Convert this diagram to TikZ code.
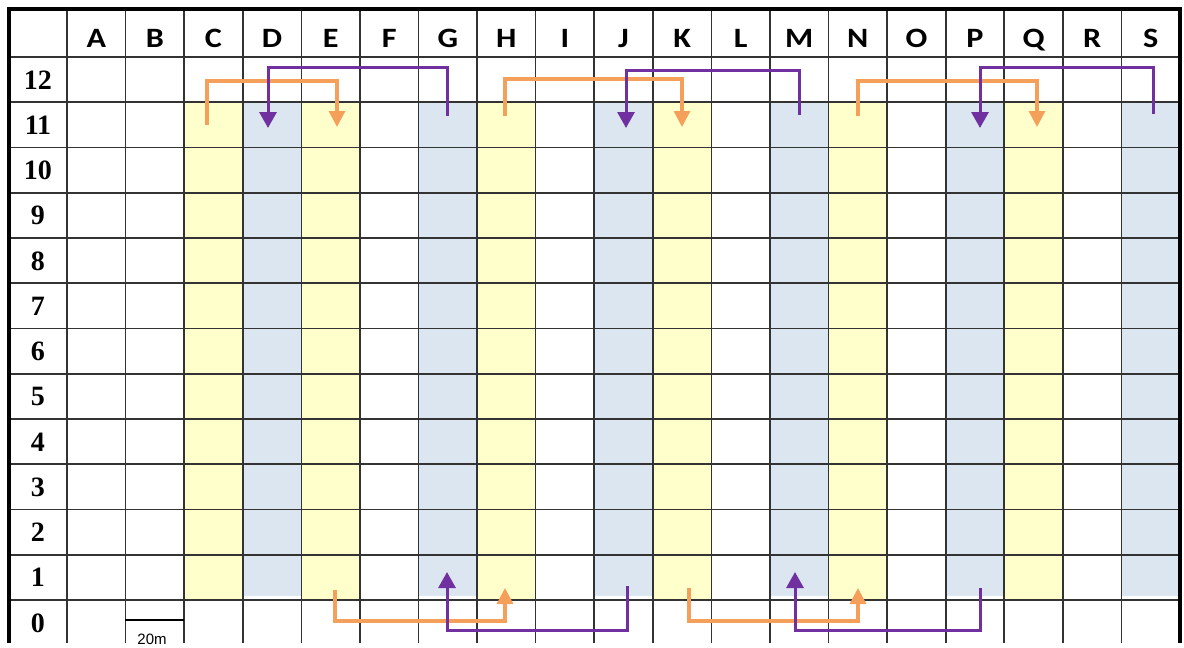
\documentclass[tikz,border=0pt]{standalone}
\usepackage{fontspec}
\setmainfont{Liberation Serif}
\newfontfamily\hdrfont[FakeStretch=1.15]{Carlito}
\newfontfamily\barfont{Liberation Sans}
\usetikzlibrary{arrows.meta}
\definecolor{plotyellow}{HTML}{FFFFCC}
\definecolor{plotblue}{HTML}{DCE6F1}
\definecolor{moveorange}{HTML}{F5A05A}
\definecolor{movepurple}{HTML}{7030A0}
\definecolor{gridgray}{HTML}{333333}

\begin{document}
\begin{tikzpicture}[x=0.5pt,y=-0.5pt,
  gridline/.style={gridgray,line width=0.8pt},
  colhead/.style={anchor=base,font=\hdrfont\bfseries\fontsize{14}{14}\selectfont},
  rowhead/.style={anchor=base,font=\bfseries\fontsize{14}{14}\selectfont},
  orangemove/.style={moveorange,line width=1.6pt,-{Triangle[width=8pt,length=8pt]}},
  purplemove/.style={movepurple,line width=1.5pt,-{Triangle[width=8.5pt,length=8pt]}}]
\useasboundingbox (0,0) rectangle (1184,648);

% shaded plots
\foreach \c in {2,4,7,10,13,16}
  \fill[plotyellow] ({67+58.58*\c},102) rectangle ({67+58.58*(\c+1)},600);
\foreach \c in {3,6,9,12,15,18}
  \fill[plotblue] ({67+58.58*\c},102) rectangle ({67+58.58*(\c+1)},596);

% grid
\foreach \i in {0,...,19}
  \draw[gridline] ({67+58.58*\i},9) -- ({67+58.58*\i},643);
\foreach \j in {0,...,12}
  \draw[gridline] (9,{57+45.25*\j}) -- (1180,{57+45.25*\j});
\draw[line width=1.8pt] (9,643) -- (9,9) -- (1180,9) -- (1180,643);

% labels
\foreach \l [count=\i from 0] in {A,...,S}
  \node[colhead] (col\l) at ({67+58.58*(\i+0.5)},47) {\l};
\foreach \r [count=\j from 0] in {12,11,...,0}
  \node[rowhead] (row\r) at (38,{57+45.25*\j+32}) {\r};

% scale bar
\coordinate (barL) at (125,620);
\coordinate (barR) at (184,620);
\draw[line width=1pt] (barL) -- (barR);
\node[anchor=base,font=\barfont\fontsize{7.5}{7.5}\selectfont] (barlabel) at (152,644) {20m};

% moves at the top
\coordinate (oC) at (207,125);  \coordinate (oE) at (337,127);
\coordinate (oH) at (505,116);  \coordinate (oK) at (682,127);
\coordinate (oN) at (858,116);  \coordinate (oQ) at (1037,127);
\coordinate (pG) at (447,116);  \coordinate (pD) at (268,128);
\coordinate (pM) at (799,115);  \coordinate (pJ) at (626,128);
\coordinate (pS) at (1153,114); \coordinate (pP) at (980,128);

\draw[orangemove] (oC) |- (oE |- 0,81) -- (oE);
\draw[orangemove] (oH) |- (oK |- 0,79) -- (oK);
\draw[orangemove] (oN) |- (oQ |- 0,81) -- (oQ);
\draw[purplemove] (pG) |- (pD |- 0,67) -- (pD);
\draw[purplemove] (pM) |- (pJ |- 0,70) -- (pJ);
\draw[purplemove] (pS) |- (pP |- 0,67) -- (pP);

% moves at the bottom
\coordinate (bE) at (335,590);  \coordinate (bH) at (505,588);
\coordinate (bK) at (689,588);  \coordinate (bN) at (858,588);
\coordinate (bJ) at (627,586);  \coordinate (bG) at (447,572);
\coordinate (bP) at (980,588);  \coordinate (bM) at (795,572);

\draw[orangemove] (bE) |- (bH |- 0,621) -- (bH);
\draw[orangemove] (bK) |- (bN |- 0,621) -- (bN);
\draw[purplemove] (bJ) |- (bG |- 0,630) -- (bG);
\draw[purplemove] (bP) |- (bM |- 0,630) -- (bM);

\end{tikzpicture}
\end{document}
